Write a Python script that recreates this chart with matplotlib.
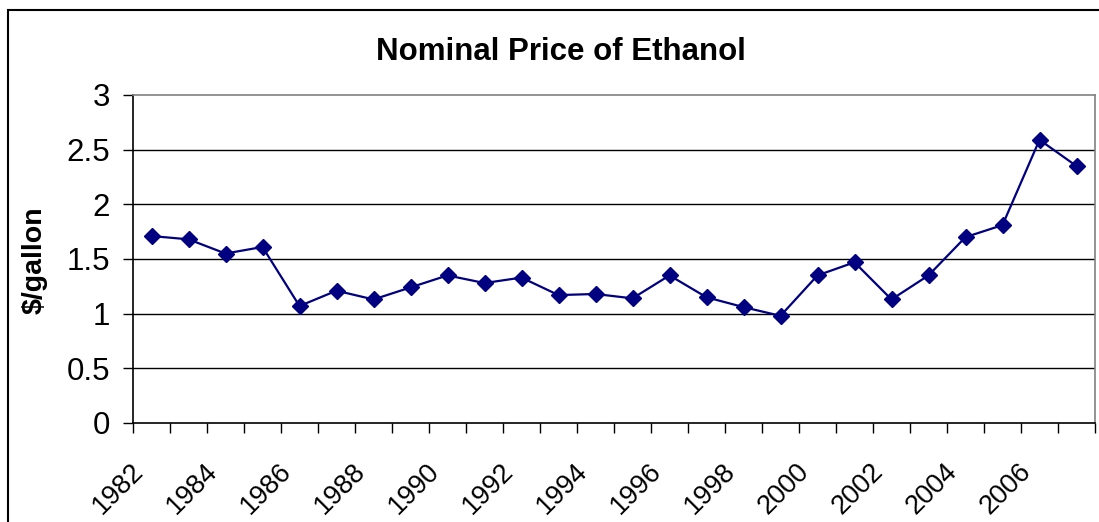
import matplotlib.pyplot as plt
from matplotlib.patches import Rectangle
from matplotlib.transforms import ScaledTranslation
import numpy as np

plt.rcParams['font.family'] = ['Liberation Sans', 'DejaVu Sans']

years = list(range(1982, 2008))
price = [1.71, 1.68, 1.55, 1.61, 1.07, 1.21, 1.13, 1.24, 1.35, 1.28, 1.33, 1.17, 1.18,
         1.14, 1.35, 1.15, 1.06, 0.98, 1.35, 1.47, 1.13, 1.35, 1.70, 1.81, 2.59, 2.35]
label_years = [str(y) if y % 2 == 0 else '' for y in years]

fig = plt.figure(figsize=(10.99, 5.22), dpi=100)
ax = fig.add_axes([133/1099, 1 - 423/522, (1095 - 133)/1099, (423 - 95)/522])

x = np.arange(len(years)) + 0.5
ax.plot(x, price, color='#000080', lw=1.6, marker='D', markersize=8.5,
        markerfacecolor='#000080', markeredgecolor='#000080')

ax.set_xlim(0, len(years))
ax.set_ylim(0, 3)
ax.set_yticks(np.arange(0, 3.01, 0.5))
ax.set_yticklabels(['0', '0.5', '1', '1.5', '2', '2.5', '3'])
for v in np.arange(0.5, 3.0, 0.5):
    ax.axhline(v, color='black', lw=1, zorder=0)

# ticks at category edges, labels at category centres
ax.set_xticks(np.arange(0, len(years) + 1))
ax.set_xticklabels([])
ax.set_xticks(x, minor=True)
ax.set_xticklabels(label_years, minor=True, rotation=45, ha='right', va='center',
                   rotation_mode='anchor', fontsize=19.5)
ax.tick_params(axis='x', which='minor', length=0, pad=32)
ax.tick_params(axis='x', which='major', length=7.5, width=1, color='black')
ax.tick_params(axis='y', length=7.5, width=1, pad=9, labelsize=22.5)
shift = ScaledTranslation(-12/100, 0, fig.dpi_scale_trans)
for lab in ax.get_xticklabels(minor=True):
    lab.set_transform(lab.get_transform() + shift)

ax.spines['top'].set_color('#808080')
ax.spines['right'].set_color('#808080')
ax.spines['left'].set_color('black')
ax.spines['bottom'].set_color('black')
for s in ax.spines.values():
    s.set_linewidth(1.2)

fig.text(0.51, 1 - 52/522, 'Nominal Price of Ethanol', ha='center', va='center',
         fontsize=22.5, fontweight='bold')
fig.text(35/1099, 1 - 260/522, '$/gallon', rotation=90, ha='center', va='center',
         fontsize=20.5, fontweight='bold')

fig.add_artist(Rectangle((8/1099, -0.1), 1.2, 1.1 - 10/522, transform=fig.transFigure,
                         fill=False, edgecolor='black', lw=1.5, clip_on=False))

fig.savefig('out.png', dpi=100)
